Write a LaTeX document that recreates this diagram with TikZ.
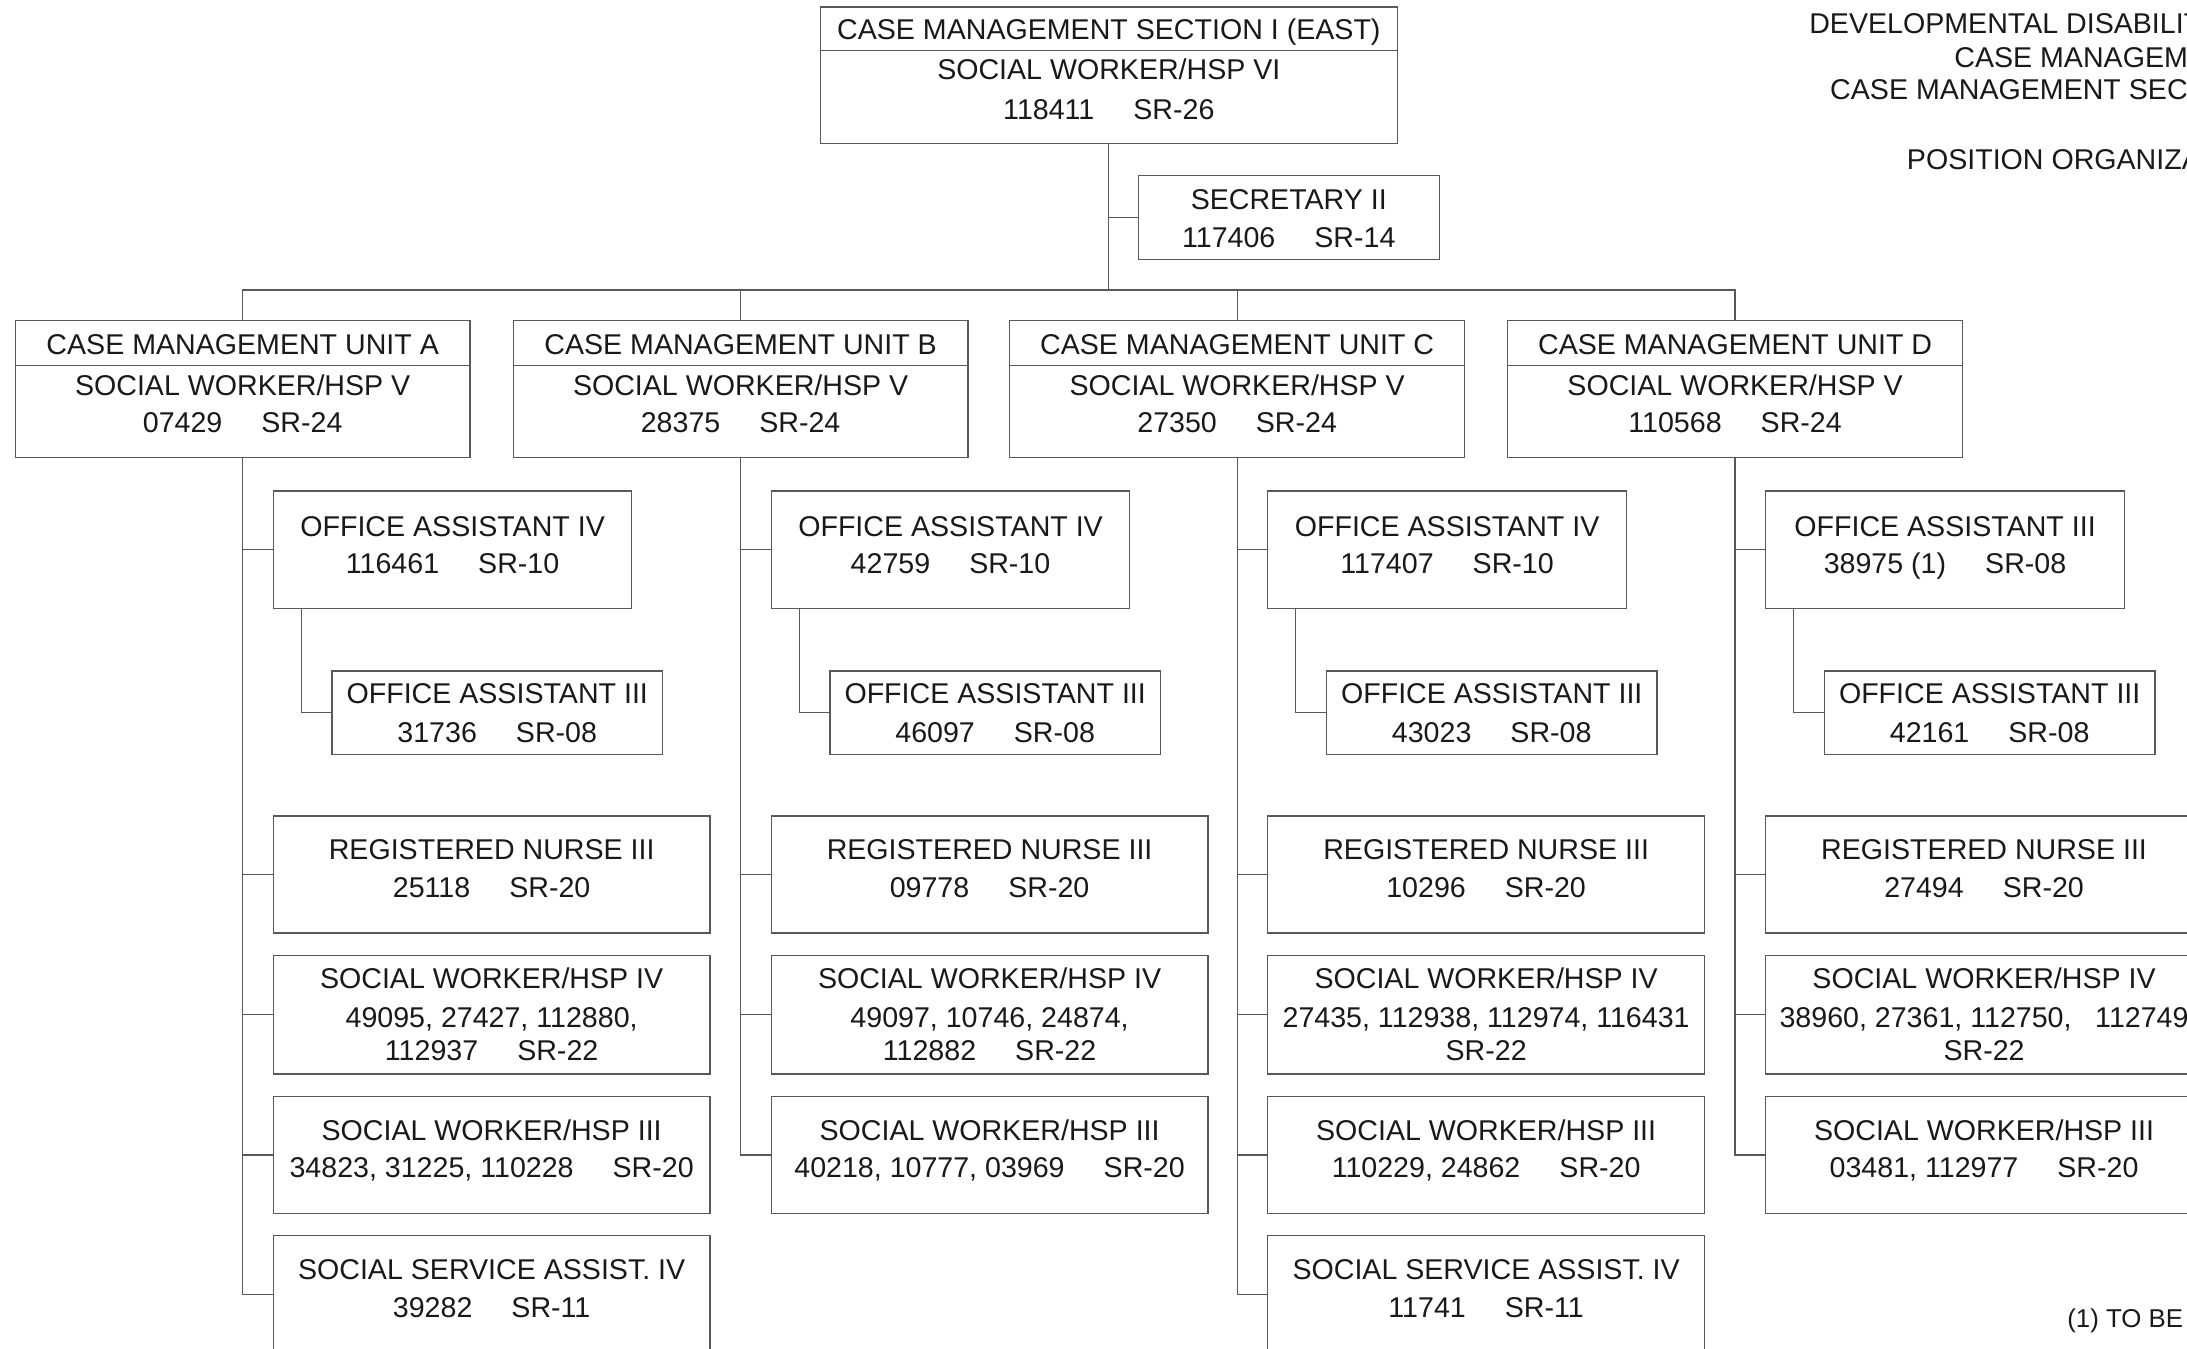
\documentclass[tikz,border=0pt]{standalone}
\usepackage{fontspec}
\setmainfont{Liberation Sans}
\newcommand{\gp}{\hspace{28pt}}
\newcommand{\bxx}[5]{\node[bx, minimum width=#4pt, minimum height=#5pt] (#1) at (#2,#3) {};}
\tikzset{
  bx/.style={draw=black!65, line width=0.9pt, rectangle, inner sep=0pt, outer sep=0pt, anchor=north west},
  ln/.style={draw=black!65, line width=0.9pt},
  tx/.style={inner sep=0pt, text height=14.7pt, text depth=0pt, text=black!90, font=\fontsize{20.5}{24}\selectfont},
  nt/.style={tx, anchor=west},
}
\begin{document}
\begin{tikzpicture}[x=1pt,y=-1pt]
\useasboundingbox (0,0) rectangle (1568,967);
\clip (0,0) rectangle (1568,967);
\fill[white] (0,0) rectangle (1568,967);

% titles at top right
\node[nt] (h1) at (1297,17) {DEVELOPMENTAL DISABILIT};
\node[nt] (h2) at (1401,41) {CASE MANAGEM};
\node[nt] (h3) at (1312,64) {CASE MANAGEMENT SECT};
\node[nt] (h4) at (1367,114) {POSITION ORGANIZA};
\node[nt, font=\fontsize{18.5}{22}\selectfont, text height=13.3pt] (fn) at (1482,945) {(1) TO BE};

% top
\bxx{top}{588}{5}{414}{98}
\draw[ln] (588,36) -- (1002,36);
\node[tx] (topa) at (top.north |- 0,21) {CASE MANAGEMENT SECTION I (EAST)};
\node[tx] (topb) at (top.north |- 0,50) {SOCIAL WORKER/HSP VI};
\node[tx] (topc) at (top.north |- 0,78) {118411\gp SR-26};

\bxx{sec}{816}{126}{216}{60}
\node[tx] (seca) at (sec.north |- 0,143) {SECRETARY II};
\node[tx] (secb) at (sec.north |- 0,170) {117406\gp SR-14};

% units
\bxx{uA}{11}{230}{326}{98}
\bxx{uB}{368}{230}{326}{98}
\bxx{uC}{724}{230}{326}{98}
\bxx{uD}{1081}{230}{326}{98}
\foreach \u in {uA,uB,uC,uD}{
  \draw[ln] (\u.north west |- 0,262) -- (\u.north east |- 0,262);
  \node[tx] at (\u.north |- 0,276) {SOCIAL WORKER/HSP V};
}
\node[tx] (uAa) at (uA.north |- 0,247) {CASE MANAGEMENT UNIT A};
\node[tx] (uBa) at (uB.north |- 0,247) {CASE MANAGEMENT UNIT B};
\node[tx] (uCa) at (uC.north |- 0,247) {CASE MANAGEMENT UNIT C};
\node[tx] (uDa) at (uD.north |- 0,247) {CASE MANAGEMENT UNIT D};
\node[tx] (uAc) at (uA.north |- 0,303) {07429\gp SR-24};
\node[tx] (uBc) at (uB.north |- 0,303) {28375\gp SR-24};
\node[tx] (uCc) at (uC.north |- 0,303) {27350\gp SR-24};
\node[tx] (uDc) at (uD.north |- 0,303) {110568\gp SR-24};

\coordinate (bus) at (0,208);
\draw[ln] (top.south) -- (top.south |- bus);
\draw[ln] (top.south) |- (sec.west);
\draw[ln] (uA.north) -- (uA.north |- bus) -- (uD.north |- bus) -- (uD.north);
\draw[ln] (uB.north) -- (uB.north |- bus);
\draw[ln] (uC.north) -- (uC.north |- bus);

% column A
\bxx{a1}{196}{352}{257}{84}
\bxx{a2}{238}{481}{237}{60}
\bxx{a3}{196}{585}{313}{84}
\bxx{a4}{196}{685}{313}{85}
\bxx{a5}{196}{786}{313}{84}
\bxx{a6}{196}{886}{313}{84}
\node[tx] at (a1.north |- 0,377) {OFFICE ASSISTANT IV};
\node[tx] at (a1.north |- 0,404) {116461\gp SR-10};
\node[tx] at (a2.north |- 0,497) {OFFICE ASSISTANT III};
\node[tx] at (a2.north |- 0,525) {31736\gp SR-08};
\node[tx] at (a3.north |- 0,609) {REGISTERED NURSE III};
\node[tx] at (a3.north |- 0,636) {25118\gp SR-20};
\node[tx] at (a4.north |- 0,701) {SOCIAL WORKER/HSP IV};
\node[tx] at (a4.north |- 0,729) {49095, 27427, 112880,};
\node[tx] at (a4.north |- 0,753) {112937\gp SR-22};
\node[tx] at (a5.north |- 0,810) {SOCIAL WORKER/HSP III};
\node[tx] at (a5.north |- 0,837) {34823, 31225, 110228\gp SR-20};
\node[tx] at (a6.north |- 0,910) {SOCIAL SERVICE ASSIST. IV};
\node[tx] at (a6.north |- 0,937) {39282\gp SR-11};
\draw[ln] (uA.south) |- (a6.west);
\foreach \c in {a1,a3,a4,a5}{\draw[ln] (uA.south |- \c.west) -- (\c.west);}
\draw[ln] ([xshift=20pt]a1.south west) |- (a2.west);

% column B
\bxx{b1}{553}{352}{257}{84}
\bxx{b2}{595}{481}{237}{60}
\bxx{b3}{553}{585}{313}{84}
\bxx{b4}{553}{685}{313}{85}
\bxx{b5}{553}{786}{313}{84}
\node[tx] at (b1.north |- 0,377) {OFFICE ASSISTANT IV};
\node[tx] at (b1.north |- 0,404) {42759\gp SR-10};
\node[tx] at (b2.north |- 0,497) {OFFICE ASSISTANT III};
\node[tx] at (b2.north |- 0,525) {46097\gp SR-08};
\node[tx] at (b3.north |- 0,609) {REGISTERED NURSE III};
\node[tx] at (b3.north |- 0,636) {09778\gp SR-20};
\node[tx] at (b4.north |- 0,701) {SOCIAL WORKER/HSP IV};
\node[tx] at (b4.north |- 0,729) {49097, 10746, 24874,};
\node[tx] at (b4.north |- 0,753) {112882\gp SR-22};
\node[tx] at (b5.north |- 0,810) {SOCIAL WORKER/HSP III};
\node[tx] at (b5.north |- 0,837) {40218, 10777, 03969\gp SR-20};
\draw[ln] (uB.south) |- (b5.west);
\foreach \c in {b1,b3,b4}{\draw[ln] (uB.south |- \c.west) -- (\c.west);}
\draw[ln] ([xshift=20pt]b1.south west) |- (b2.west);

% column C
\bxx{c1}{909}{352}{257}{84}
\bxx{c2}{951}{481}{237}{60}
\bxx{c3}{909}{585}{313}{84}
\bxx{c4}{909}{685}{313}{85}
\bxx{c5}{909}{786}{313}{84}
\bxx{c6}{909}{886}{313}{84}
\node[tx] at (c1.north |- 0,377) {OFFICE ASSISTANT IV};
\node[tx] at (c1.north |- 0,404) {117407\gp SR-10};
\node[tx] at (c2.north |- 0,497) {OFFICE ASSISTANT III};
\node[tx] at (c2.north |- 0,525) {43023\gp SR-08};
\node[tx] at (c3.north |- 0,609) {REGISTERED NURSE III};
\node[tx] at (c3.north |- 0,636) {10296\gp SR-20};
\node[tx] at (c4.north |- 0,701) {SOCIAL WORKER/HSP IV};
\node[tx] at (c4.north |- 0,729) {27435, 112938, 112974, 116431};
\node[tx] at (c4.north |- 0,753) {SR-22};
\node[tx] at (c5.north |- 0,810) {SOCIAL WORKER/HSP III};
\node[tx] at (c5.north |- 0,837) {110229, 24862\gp SR-20};
\node[tx] at (c6.north |- 0,910) {SOCIAL SERVICE ASSIST. IV};
\node[tx] at (c6.north |- 0,937) {11741\gp SR-11};
\draw[ln] (uC.south) |- (c6.west);
\foreach \c in {c1,c3,c4,c5}{\draw[ln] (uC.south |- \c.west) -- (\c.west);}
\draw[ln] ([xshift=20pt]c1.south west) |- (c2.west);

% column D
\bxx{d1}{1266}{352}{257}{84}
\bxx{d2}{1308}{481}{237}{60}
\bxx{d3}{1266}{585}{313}{84}
\bxx{d4}{1266}{685}{313}{85}
\bxx{d5}{1266}{786}{313}{84}
\node[tx] at (d1.north |- 0,377) {OFFICE ASSISTANT III};
\node[tx] at (d1.north |- 0,404) {38975 (1)\gp SR-08};
\node[tx] at (d2.north |- 0,497) {OFFICE ASSISTANT III};
\node[tx] at (d2.north |- 0,525) {42161\gp SR-08};
\node[tx] at (d3.north |- 0,609) {REGISTERED NURSE III};
\node[tx] at (d3.north |- 0,636) {27494\gp SR-20};
\node[tx] at (d4.north |- 0,701) {SOCIAL WORKER/HSP IV};
\node[tx] at (d4.north |- 0,729) {38960, 27361, 112750,\hspace{17pt}112749};
\node[tx] at (d4.north |- 0,753) {SR-22};
\node[tx] at (d5.north |- 0,810) {SOCIAL WORKER/HSP III};
\node[tx] at (d5.north |- 0,837) {03481, 112977\gp SR-20};
\draw[ln] (uD.south) |- (d5.west);
\foreach \c in {d1,d3,d4}{\draw[ln] (uD.south |- \c.west) -- (\c.west);}
\draw[ln] ([xshift=20pt]d1.south west) |- (d2.west);
\end{tikzpicture}
\end{document}
